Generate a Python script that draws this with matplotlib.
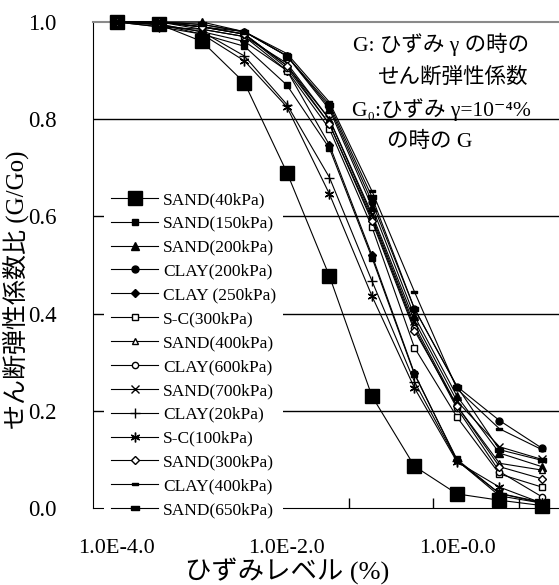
import numpy as np
import matplotlib
matplotlib.use("Agg")
import matplotlib.pyplot as plt

plt.rcParams['font.family'] = ['Liberation Serif', 'DejaVu Serif', 'Noto Sans CJK JP']

# strain level (%)
strain = [1e-4, 3.16e-4, 1e-3, 3.16e-3, 1e-2, 3.16e-2, 0.1, 0.316, 1.0, 3.16, 10.0]

labels = ["SAND(40kPa)", "SAND(150kPa)", "SAND(200kPa)", "CLAY(200kPa)", "CLAY (250kPa)",
          "S-C(300kPa)", "SAND(400kPa)", "CLAY(600kPa)", "SAND(700kPa)", "CLAY(20kPa)",
          "S-C(100kPa)", "SAND(300kPa)", "CLAY(400kPa)", "SAND(650kPa)"]

sand40  = [1.0, 0.995, 0.96, 0.875, 0.69, 0.477, 0.23, 0.086, 0.029, 0.016, 0.005]
sand150 = [1.0, 0.995, 0.975, 0.95, 0.87, 0.74, 0.515, 0.275, 0.10, 0.03, 0.012]
sand200 = [1.0, 1.0, 1.0, 0.98, 0.93, 0.82, 0.62, 0.395, 0.23, 0.113, 0.085]
clay200 = [1.0, 1.0, 0.99, 0.98, 0.93, 0.825, 0.63, 0.41, 0.25, 0.18, 0.123]
clay250 = [1.0, 0.995, 0.98, 0.96, 0.90, 0.747, 0.52, 0.277, 0.098, 0.025, 0.01]
sc300   = [1.0, 1.0, 0.985, 0.97, 0.90, 0.78, 0.578, 0.33, 0.187, 0.07, 0.043]
sand400 = [1.0, 1.0, 0.99, 0.975, 0.91, 0.80, 0.60, 0.376, 0.21, 0.092, 0.078]
clay600 = [1.0, 1.0, 0.99, 0.975, 0.905, 0.79, 0.595, 0.37, 0.205, 0.075, 0.023]
sand700 = [1.0, 0.99, 0.985, 0.97, 0.915, 0.80, 0.605, 0.385, 0.22, 0.126, 0.10]
clay20  = [1.0, 0.995, 0.98, 0.93, 0.83, 0.68, 0.467, 0.26, 0.097, 0.03, 0.01]
sc100   = [1.0, 0.99, 0.975, 0.92, 0.825, 0.646, 0.436, 0.247, 0.095, 0.043, 0.01]
sand300 = [1.0, 1.0, 0.99, 0.975, 0.91, 0.79, 0.59, 0.365, 0.21, 0.085, 0.06]
clay400 = [1.0, 1.0, 0.995, 0.98, 0.935, 0.835, 0.652, 0.445, 0.245, 0.163, 0.12]
sand650 = [1.0, 1.0, 0.995, 0.98, 0.93, 0.83, 0.64, 0.41, 0.25, 0.12, 0.098]

series = [sand40, sand150, sand200, clay200, clay250, sc300, sand400, clay600,
          sand700, clay20, sc100, sand300, clay400, sand650]

bar_s = [(-1, -0.35), (1, -0.35), (1, 0.35), (-1, 0.35), (-1, -0.35)]
bar_l = [(-1, -0.45), (1, -0.45), (1, 0.45), (-1, 0.45), (-1, -0.45)]

# marker, size, face
styles = [('s', 10, 'k'), ('s', 4.5, 'k'), ('^', 5.5, 'k'), ('o', 5, 'k'), ('D', 4.5, 'k'),
          ('s', 4.5, 'w'), ('^', 5, 'w'), ('o', 4.5, 'w'), ('x', 6, 'k'), ('+', 7, 'k'),
          ((6, 2, 0), 7, 'k'), ('D', 4.5, 'w'), (bar_s, 4, 'k'), (bar_l, 6, 'k')]

fig = plt.figure(figsize=(5.59, 5.85), dpi=100)
ax = fig.add_axes([93/559, 77/585, 466/559, 486/585])

for y, lab, (m, ms, fc) in zip(series, labels, styles):
    ax.plot(strain, y, color='k', lw=0.8, marker=m, ms=ms, mfc=fc, mec='k',
            mew=1.0, label=lab, clip_on=False, zorder=3)

ax.set_xscale('log')
ax.set_xlim(10**-4.282, 10**1.2)
ax.set_ylim(0, 1.0)

ax.set_xticks([1e-4, 1e-2, 1.0], ["1.0E-4.0", "1.0E-2.0", "1.0E-0.0"])
ax.set_xticks([10**-1.27, 10**-0.28, 10**0.73, 10**-2.27, 10**-3.27], minor=True)
ax.xaxis.set_minor_formatter(plt.NullFormatter())
ax.tick_params(axis='x', which='major', length=0, pad=22, labelsize=16)
ax.tick_params(axis='x', which='minor', direction='in', length=7, width=1)

ax.set_yticks(np.arange(0, 1.01, 0.2))
ax.set_yticklabels(["%.1f" % v for v in np.arange(0, 1.01, 0.2)])
ax.tick_params(axis='y', length=0, pad=26, labelsize=16.5)
ax.yaxis.set_minor_locator(plt.NullLocator())

for v in [0.2, 0.4, 0.6, 0.8]:
    ax.axhline(v, color='k', lw=1.0, zorder=1)

ax.spines['right'].set_visible(False)
ax.spines['top'].set_color('#8a8a8a')
ax.spines['top'].set_linewidth(1.5)

ax.set_xlabel("ひずみレベル (%)", fontsize=19)
ax.xaxis.set_label_coords(0.416, -0.103)
ax.set_ylabel("せん断弾性係数比 (G/Go)", fontsize=18)
ax.yaxis.set_label_coords(-0.138, 0.45)

fs = 15.5
ax.text(0.747, 0.953, "G: ひずみ γ の時の", transform=ax.transAxes, ha='center', va='center', fontsize=fs)
ax.text(0.770, 0.885, "せん断弾性係数", transform=ax.transAxes, ha='center', va='center', fontsize=fs)
ax.text(0.747, 0.819, "G₀:ひずみ γ=10⁻⁴%", transform=ax.transAxes, ha='center', va='center', fontsize=fs)
ax.text(0.723, 0.753, "の時の G", transform=ax.transAxes, ha='center', va='center', fontsize=fs)

leg = ax.legend(loc='upper left', bbox_to_anchor=(0.024, 0.665), fontsize=12.5,
                frameon=True, fancybox=False, framealpha=1, facecolor='white',
                edgecolor='none', handlelength=2.7, handletextpad=0.3,
                labelspacing=0.445, borderpad=0.4, borderaxespad=0)
leg.set_zorder(5)

fig.savefig("out.png", dpi=100, facecolor='white')
